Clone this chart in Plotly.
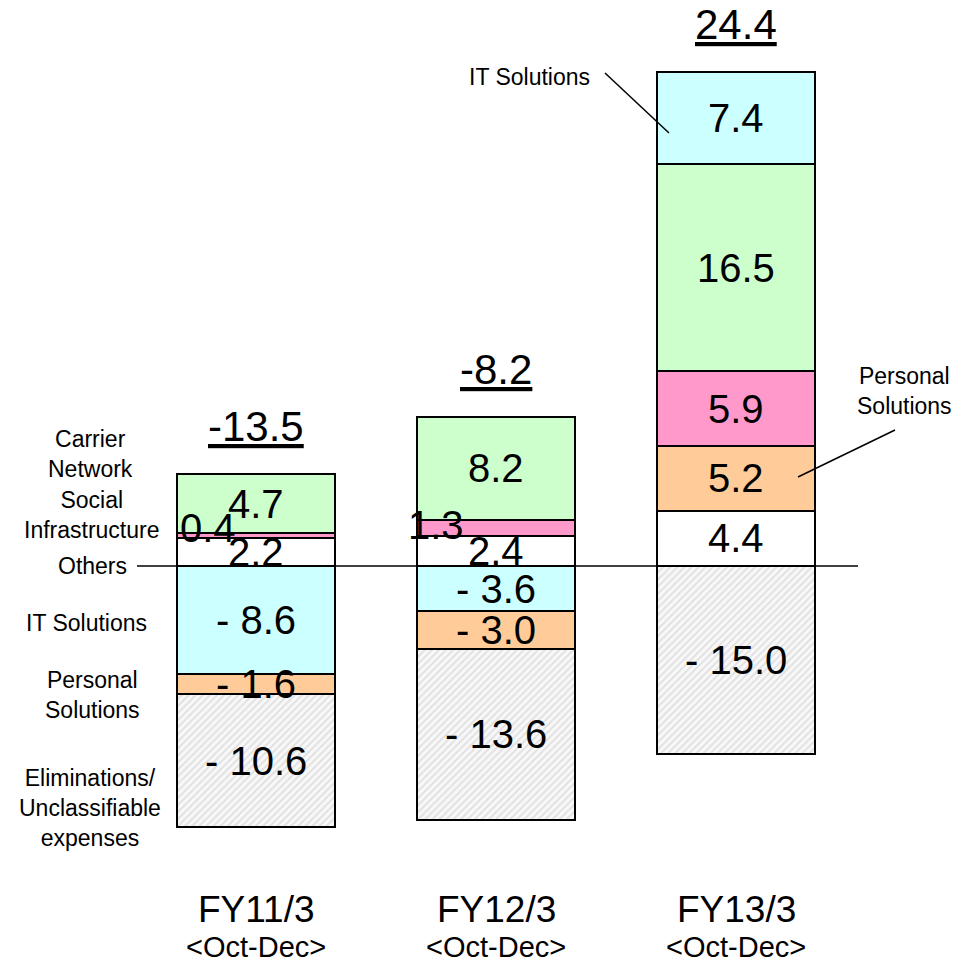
import plotly.graph_objects as go

# Segment values per fiscal period (billion yen)
periods = ["FY11/3", "FY12/3", "FY13/3"]
period_sub = ["<Oct-Dec>", "<Oct-Dec>", "<Oct-Dec>"]
others = [2.2, 2.4, 4.4]
personal = [-1.6, -3.0, 5.2]
social = [0.4, 1.3, 5.9]
carrier = [4.7, 8.2, 16.5]
it_sol = [-8.6, -3.6, 7.4]
elim = [-10.6, -13.6, -15.0]
totals = [-13.5, -8.2, 24.4]

FONT = "Liberation Sans, Arial, sans-serif"
W, H = 966, 963
SCALE = 12.55          # px per unit
ZERO_PX = 566          # zero line in page pixels
Y_MAX = ZERO_PX / SCALE
Y_MIN = -(H - ZERO_PX) / SCALE
X_MIN = -256 / 240
X_MAX = X_MIN + W / 240
BAR_W = 0.66

COLORS = {
    "others": "#FFFFFF",
    "personal": "#FFCC99",
    "social": "#FF99CC",
    "carrier": "#CCFFCC",
    "it": "#CCFFFF",
}

x = list(range(len(periods)))

# Stacking order: positives from zero upward, negatives from zero downward
pos_order = [("others", others), ("personal", personal), ("social", social),
             ("carrier", carrier), ("it", it_sol)]
neg_order = [("it", it_sol), ("personal", personal), ("elim", elim)]

fig = go.Figure()
line = dict(color="black", width=2)

for key, vals in pos_order:
    yv = [v if v > 0 else 0 for v in vals]
    fig.add_trace(go.Bar(x=x, y=yv, width=BAR_W,
                         marker=dict(color=COLORS[key], line=line),
                         showlegend=False, hoverinfo="skip"))

for key, vals in neg_order:
    yv = [v if v < 0 else 0 for v in vals]
    if key == "elim":
        marker = dict(color="#F4F4F4", line=line,
                      pattern=dict(shape="/", fgcolor="#C8C8C8", bgcolor="#F8F8F8",
                                   size=5, solidity=0.35))
    else:
        marker = dict(color=COLORS[key], line=line)
    fig.add_trace(go.Bar(x=x, y=yv, width=BAR_W,
                         marker=marker, showlegend=False, hoverinfo="skip"))

annotations = []


def fmt(v):
    return f"{v:.1f}" if v >= 0 else f"- {abs(v):.1f}"


SEG_FONT = dict(size=40, color="black", family=FONT)

# Segment value labels at the middle of each stacked segment
small_shift = {("social", 0): (-48, 8), ("social", 1): (-60, 3)}
for i in x:
    cum = 0.0
    for key, vals in pos_order:
        v = vals[i]
        if v > 0:
            mid = cum + v / 2
            cum += v
            dx, dy = small_shift.get((key, i), (0, 0))
            annotations.append(dict(x=i, y=mid, xref="x", yref="y", text=fmt(v),
                                    showarrow=False, xshift=dx, yshift=dy,
                                    xanchor="center", font=SEG_FONT))
    cum = 0.0
    for key, vals in neg_order:
        v = vals[i]
        if v < 0:
            mid = cum + v / 2
            cum += v
            annotations.append(dict(x=i, y=mid, xref="x", yref="y", text=fmt(v),
                                    showarrow=False, xanchor="center", font=SEG_FONT))
    top = sum(vals[i] for _, vals in pos_order if vals[i] > 0)
    annotations.append(dict(x=i, y=top, xref="x", yref="y",
                            text=f"<u>{totals[i]:.1f}</u>", showarrow=False,
                            xanchor="center", yanchor="bottom", yshift=23,
                            borderpad=0,
                            font=dict(size=42, color="black", family=FONT)))
    annotations.append(dict(x=i, y=(ZERO_PX - 909) / SCALE, xref="x", yref="y",
                            text=periods[i], showarrow=False, xanchor="center",
                            font=dict(size=37, color="black", family=FONT)))
    annotations.append(dict(x=i, y=(ZERO_PX - 947) / SCALE, xref="x", yref="y",
                            text=period_sub[i].replace("<", "&lt;").replace(">", "&gt;"),
                            showarrow=False, xanchor="center",
                            font=dict(size=29, color="black", family=FONT)))


def px(xp, yp):
    return xp / W, 1 - yp / H


# Category captions on the left
left_labels = [
    ("Carrier<br>Network", 90, 454),
    ("Social<br>Infrastructure", 92, 515),
    ("Others", 92, 566),
    ("IT Solutions", 86, 623),
    ("Personal<br>Solutions", 92, 695),
    ("Eliminations/<br>Unclassifiable<br>expenses", 90, 808),
]
LBL_FONT = dict(size=23, color="black", family=FONT)
for text, cx, cy in left_labels:
    ax_, ay_ = px(cx, cy)
    annotations.append(dict(x=ax_, y=ay_, xref="paper", yref="paper", text=text,
                            showarrow=False, align="center",
                            xanchor="center", yanchor="middle", font=LBL_FONT))

# Callouts on the right-hand bar
for text, cx, cy in [("IT Solutions", 529, 77), ("Personal<br>Solutions", 904, 391)]:
    ax_, ay_ = px(cx, cy)
    annotations.append(dict(x=ax_, y=ay_, xref="paper", yref="paper", text=text,
                            showarrow=False, align="center",
                            xanchor="center", yanchor="middle", font=LBL_FONT))

shapes = [
    dict(type="line", xref="x", yref="y", x0=(137 / 240) + X_MIN, x1=(858 / 240) + X_MIN,
         y0=0, y1=0, line=dict(color="black", width=1.5), layer="above"),
]
for (x0p, y0p, x1p, y1p) in [(605, 73, 669, 133), (895, 430, 798, 477)]:
    a0, b0 = px(x0p, y0p)
    a1, b1 = px(x1p, y1p)
    shapes.append(dict(type="line", xref="paper", yref="paper", x0=a0, y0=b0,
                       x1=a1, y1=b1, line=dict(color="black", width=1.5)))

fig.update_layout(
    barmode="relative",
    width=W, height=H,
    margin=dict(l=0, r=0, t=0, b=0),
    paper_bgcolor="white", plot_bgcolor="white",
    xaxis=dict(range=[X_MIN, X_MAX], visible=False, fixedrange=True),
    yaxis=dict(range=[Y_MIN, Y_MAX], visible=False, fixedrange=True),
    annotations=annotations,
    shapes=shapes,
    font=dict(family=FONT),
    bargap=0,
)

fig.write_html("out.html")
